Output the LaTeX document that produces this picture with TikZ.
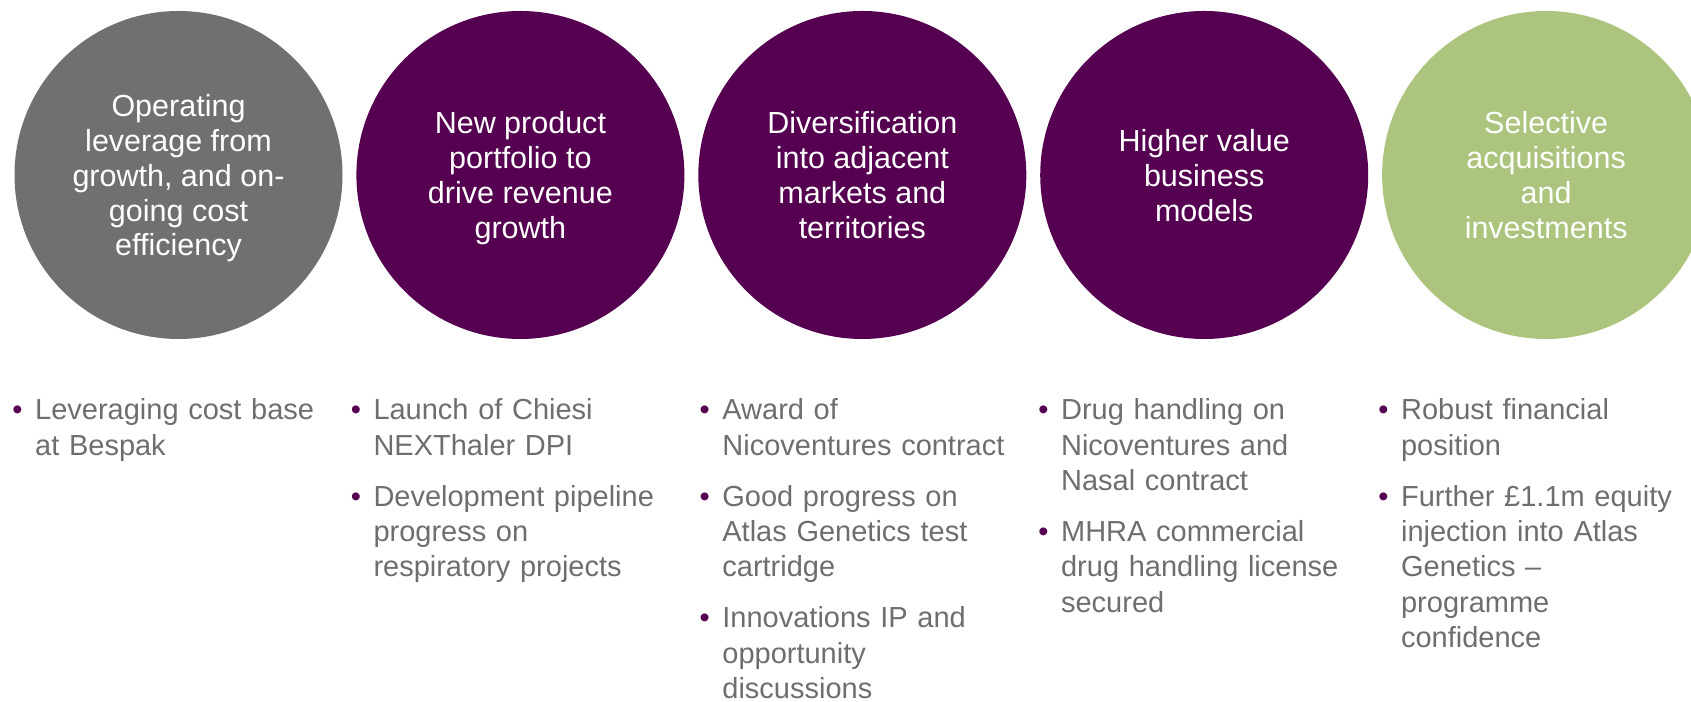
\documentclass[tikz,border=0pt]{standalone}
\usepackage{xcolor}
\usepackage{fontspec}
\setmainfont{Liberation Sans}
\usepackage{tikz}
\usetikzlibrary{positioning}

\definecolor{leadgrey}{RGB}{112,112,112}
\definecolor{plum}{RGB}{85,0,80}
\definecolor{sage}{RGB}{173,196,127}
\definecolor{textgrey}{RGB}{110,110,110}

\newcommand{\bdot}{\leavevmode\llap{\textcolor{plum}{\textbullet}\hspace{0.126cm}}}

\begin{document}
\begin{tikzpicture}[bubble/.style = {circle, minimum size=3.28cm, inner sep=0pt, align=center, text depth=0pt, text=white, font={\fontsize{8.68}{9.95}\selectfont}}]
				\tikzset{points/.style={anchor=base west, inner sep=0pt, text width=2.9cm, align=left, text=textgrey, font={\fontsize{8.25}{10.04}\selectfont}}}

				\useasboundingbox (0,0) rectangle (16.91,7.02);

				\node[bubble, fill=leadgrey] (lever) at (1.785,5.27) {Operating\\leverage from\\growth, and on-\\going cost\\efficiency};
				\node[bubble, fill=plum, right=0.125cm of lever] (product) {New product\\portfolio to\\drive revenue\\growth};
				\node[bubble, fill=plum, right=0.125cm of product] (divers) {Diversification\\into adjacent\\markets and\\territories};
				\node[bubble, fill=plum, right=0.125cm of divers] (value) {Higher value\\business\\models};
				\node[bubble, fill=sage, right=0.125cm of value] (acquis) {Selective\\acquisitions\\and\\investments};

				\node[points] (leverpts) at (0.345,2.82) {\bdot Leveraging cost base\\at Bespak};
				\node[points] (productpts) at (3.728,2.82) {\bdot Launch of Chiesi\\NEXThaler DPI\\[0.157cm]\bdot Development pipeline\\progress on\\respiratory projects};
				\node[points] (diverspts) at (7.217,2.82) {\bdot Award of\\Nicoventures contract\\[0.157cm]\bdot Good progress on\\Atlas Genetics test\\cartridge\\[0.157cm]\bdot Innovations IP and\\opportunity\\discussions};
				\node[points] (valuepts) at (10.604,2.82) {\bdot Drug handling on\\Nicoventures and\\Nasal contract\\[0.157cm]\bdot MHRA commercial\\drug handling license\\secured};
				\node[points] (acquispts) at (14.004,2.82) {\bdot Robust financial\\position\\[0.157cm]\bdot Further £1.1m equity\\injection into Atlas\\Genetics –\\programme\\confidence};

			\end{tikzpicture}
\end{document}
